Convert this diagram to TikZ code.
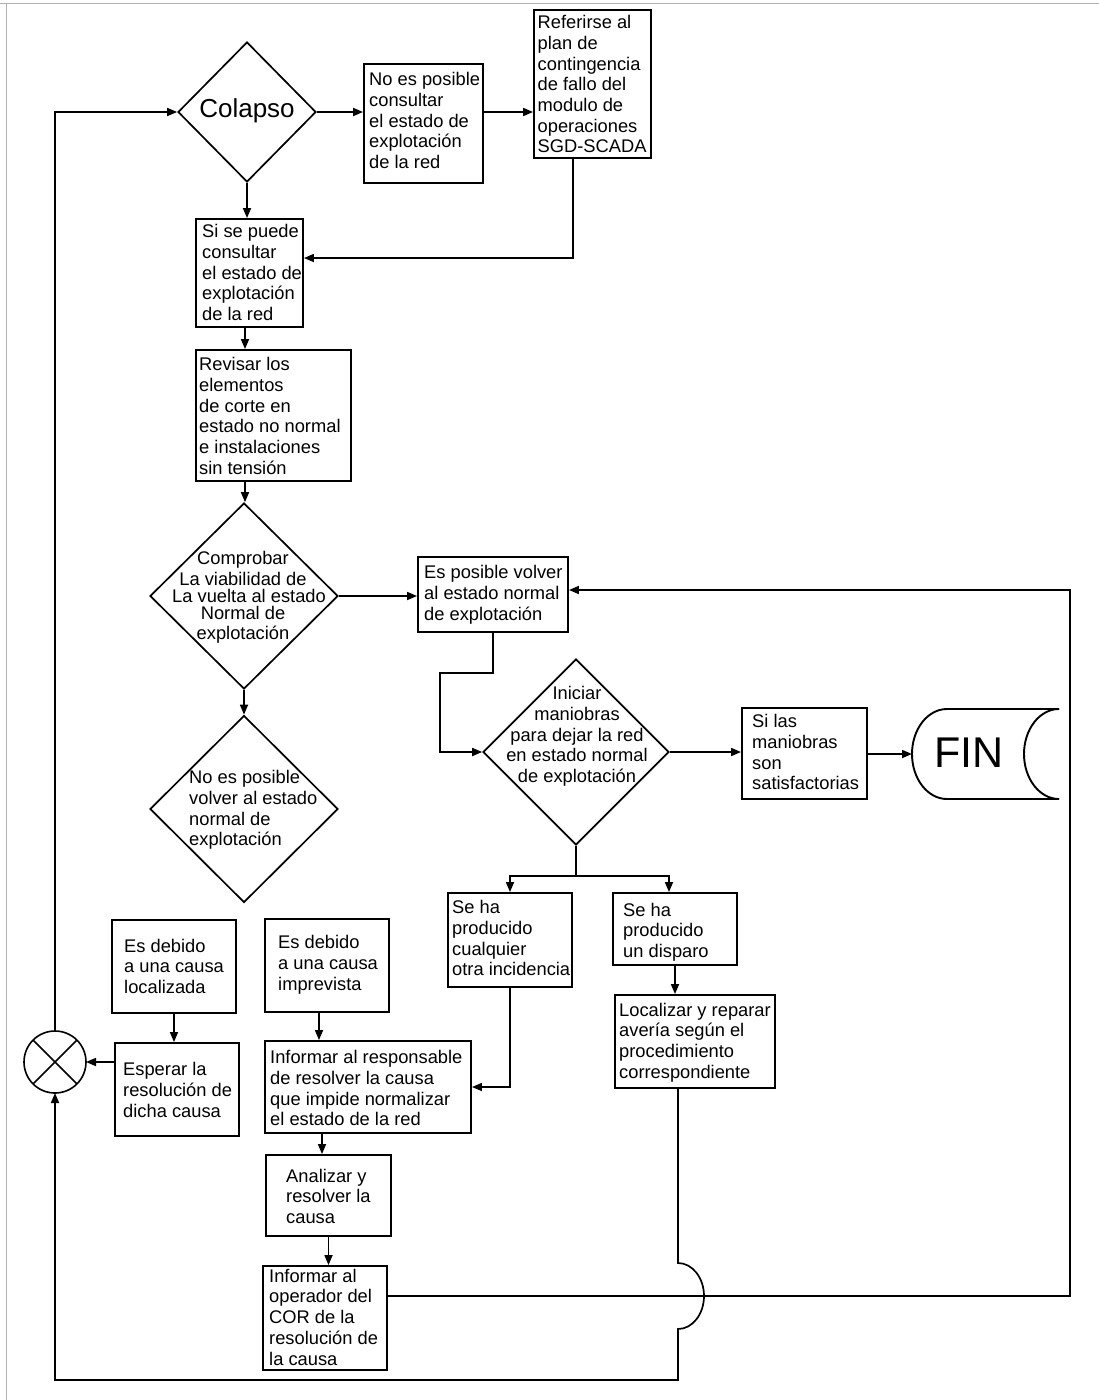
\documentclass[tikz,border=0pt]{standalone}
\usepackage{fontspec}
\setmainfont{Liberation Sans}
\usetikzlibrary{shapes.geometric,arrows.meta}
\newcommand\firstln{\rule{0pt}{14pt}}
\begin{document}
\begin{tikzpicture}[x=1pt,y=-1pt,
  box/.style={draw, line width=1.9pt, inner sep=0pt},
  dia/.style={draw, diamond, line width=1.7pt, inner sep=0pt},
  txt/.style={inner sep=0pt, anchor=north west, align=left, font=\fontsize{18.3}{20.7}\selectfont},
  ctxt/.style={inner sep=0pt, anchor=north, align=center, font=\fontsize{18.3}{20.7}\selectfont},
  conn/.style={line width=1.7pt},
  arr/.style={conn, -{Triangle[length=10pt,width=8pt]}}]
\useasboundingbox (0,0) rectangle (1099,1400);
\fill[white] (0,0) rectangle (1099,1400);
% frame
\draw[gray!60, line width=1.3pt] (0,3.5) -- (1099,3.5) (6.5,3.5) -- (6.5,1400);

% diamonds
\node[dia, minimum width=138pt, minimum height=140pt] (colapso) at (247,112) {};
\node[font=\fontsize{26}{30}\selectfont] (colapsoT) at (247,111) {Colapso};
\node[dia, minimum width=188pt, minimum height=186pt] (comprobar) at (244,596) {};
\node[dia, minimum width=188pt, minimum height=187pt] (nopuede) at (244,809) {};
\node[dia, minimum width=186pt, minimum height=186pt] (iniciar) at (576,752) {};

% boxes
\node[box, minimum width=119pt, minimum height=119pt] (nopos) at (423.5,123.5) {};
\node[box, minimum width=117pt, minimum height=148pt] (refer) at (592.5,84) {};
\node[box, minimum width=107pt, minimum height=108pt] (sipuede) at (249.5,273) {};
\node[box, minimum width=155pt, minimum height=131pt] (revisar) at (273.5,415.5) {};
\node[box, minimum width=150pt, minimum height=75pt] (esposible) at (493,594.5) {};
\node[box, minimum width=125pt, minimum height=91pt] (silas) at (804.5,753.5) {};
\node[box, minimum width=124pt, minimum height=94pt] (otra) at (510,940) {};
\node[box, minimum width=124pt, minimum height=72pt] (disparo) at (675,929) {};
\node[box, minimum width=160pt, minimum height=93pt] (localizar) at (695,1041.5) {};
\node[box, minimum width=124pt, minimum height=93pt] (localizada) at (174,966.5) {};
\node[box, minimum width=124pt, minimum height=93pt] (imprevista) at (327,965.5) {};
\node[box, minimum width=124pt, minimum height=93pt] (esperar) at (177,1089.5) {};
\node[box, minimum width=206pt, minimum height=92pt] (responsable) at (368,1087) {};
\node[box, minimum width=125pt, minimum height=81pt] (analizar) at (328.5,1195.5) {};
\node[box, minimum width=124pt, minimum height=104pt] (operador) at (325,1318) {};

% junction
\node[circle, draw, line width=1.6pt, minimum size=62pt, inner sep=0pt, outer sep=0pt] (junc) at (55,1062) {};
\draw[line width=1.6pt] (junc.north east) -- (junc.south west) (junc.north west) -- (junc.south east);

% FIN terminator
\draw[line width=1.9pt] (1059,709) -- (947,709) arc[start angle=-90, end angle=-270, x radius=35, y radius=45] -- (1059,799);
\draw[line width=1.9pt] (1059,709) arc[start angle=-90, end angle=-270, x radius=35, y radius=45];
\node[font=\fontsize{43}{50}\selectfont, inner sep=0pt] (fin) at (969,753) {FIN};
\coordinate (finL) at (912,754);

% texts
\node[txt] (nopostxt) at (369,71.5) {\firstln No es posible\\consultar\\el estado de\\explotación\\de la red};
\node[txt] (refertxt) at (537.5,14.5) {\firstln Referirse al\\plan de\\contingencia\\de fallo del\\modulo de\\operaciones\\SGD-SCADA};
\node[txt] (sipuedetxt) at (202,223.5) {\firstln Si se puede\\consultar\\el estado de\\explotación\\de la red};
\node[txt] (revisartxt) at (199,356.5) {\firstln Revisar los\\elementos\\de corte en\\estado no normal\\e instalaciones\\sin tensión};
\node[ctxt] (comprobartxt) at (243,550.5) {\firstln Comprobar\\La viabilidad de\\[-3.7pt]\hspace*{12pt}La vuelta al estado\\[-3.7pt]Normal de\\[-0.7pt]explotación};
\node[txt] (nopuedetxt) at (189,769.5) {\firstln No es posible\\volver al estado\\normal de\\explotación};
\node[txt] (esposibletxt) at (424,564.5) {\firstln Es posible volver\\al estado normal\\de explotación};
\node[ctxt] (iniciartxt) at (577,685.5) {\firstln Iniciar\\maniobras\\para dejar la red\\en estado normal\\de explotación};
\node[txt] (silastxt) at (752,713.5) {\firstln Si las\\maniobras\\son\\satisfactorias};
\node[txt] (otratxt) at (452,899.5) {\firstln Se ha\\producido\\cualquier\\otra incidencia};
\node[txt] (disparotxt) at (623,902) {\firstln Se ha\\producido\\un disparo};
\node[txt] (localizartxt) at (619,1002) {\firstln Localizar y reparar\\avería según el\\procedimiento\\correspondiente};
\node[txt] (localizadatxt) at (124,938) {\firstln Es debido\\a una causa\\localizada};
\node[txt] (imprevistatxt) at (278,934.5) {\firstln Es debido\\a una causa\\imprevista};
\node[txt] (esperartxt) at (123,1061.5) {\firstln Esperar la\\resolución de\\dicha causa};
\node[txt] (responsabletxt) at (270,1049.5) {\firstln Informar al responsable\\de resolver la causa\\que impide normalizar\\el estado de la red};
\node[txt] (analizartxt) at (286,1168) {\firstln Analizar y\\resolver la\\causa};
\node[txt] (operadortxt) at (269,1268) {\firstln Informar al\\operador del\\COR de la\\resolución de\\la causa};

% helper coordinates
\coordinate (r1) at (573,258);
\coordinate (b1) at (440,673);
\coordinate (sp) at (577,876);
\coordinate (rr) at (1070,590);
\coordinate (h1) at (1070,1296);
\coordinate (lb) at (678,1380);
\coordinate (hopT) at (678,1263);
\coordinate (xa) at (322,0);
\coordinate (xb) at (319,0);
\coordinate (xc) at (245,0);
\coordinate (xd) at (669,0);

% connectors
\draw[arr] (colapso.east) -- (colapso.east -| nopos.west);
\draw[arr] (nopos.east |- colapso.east) -- (refer.west |- colapso.east);
\draw[arr] (colapso.south) -- (colapso.south |- sipuede.north);
\draw[arr] (refer.south -| r1) |- (sipuede.east |- r1);
\draw[arr] (sipuede.south -| xc) -- (revisar.north -| xc);
\draw[arr] (revisar.south -| xc) -- (comprobar.north -| xc);
\draw[arr] (comprobar.south) -- (nopuede.north);
\draw[arr] (comprobar.east) -- (esposible.west |- comprobar.east);
\draw[arr] (esposible.south) |- (b1) |- (iniciar.west);
\draw[arr] (iniciar.east) -- (silas.west |- iniciar.east);
\draw[arr] (silas.east |- finL) -- (finL);
\draw[conn] (iniciar.south) -- (iniciar.south |- sp);
\draw[arr] (iniciar.south |- sp) -| (otra.north);
\draw[arr] (iniciar.south |- sp) -| (disparo.north -| xd);
\draw[arr] (disparo.south) -- (disparo.south |- localizar.north);
\draw[arr] (otra.south) |- (responsable.east);
\draw[arr] (imprevista.south -| xb) -- (responsable.north -| xb);
\draw[arr] (localizada.south) -- (localizada.south |- esperar.north);
\draw[arr] (esperar.west |- junc.east) -- (junc.east);
\draw[arr] (junc.north) |- (colapso.west);
\draw[arr] (responsable.south -| xa) -- (analizar.north -| xa);
\draw[arr] (analizar.south) -- (analizar.south |- operador.north);
\draw[arr] (operador.east |- h1) -- (h1) -- (rr) -- (esposible.east |- rr);
\draw[arr] (localizar.south -| lb) -- (hopT) arc[start angle=-90, end angle=90, x radius=26, y radius=33] -- (lb) -- (lb -| junc.south) -- (junc.south);
\end{tikzpicture}
\end{document}
